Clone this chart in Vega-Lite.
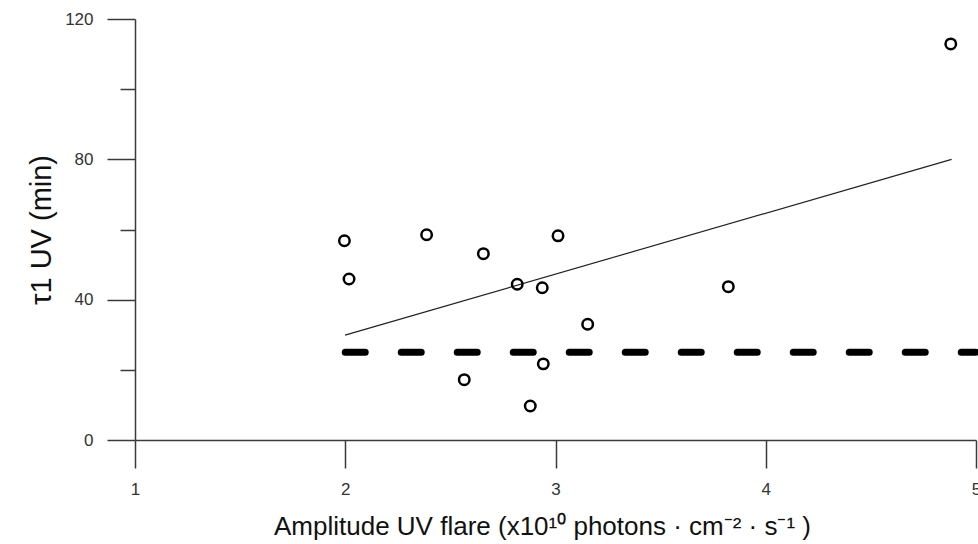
{
  "$schema": "https://vega.github.io/schema/vega-lite/v6.json",
  "autosize": {"type": "none"},
  "width": 841,
  "height": 421,
  "padding": {"left": 135, "top": 19, "right": 2, "bottom": 104},
  "background": "white",
  "config": {
    "view": {"stroke": null},
    "font": "Liberation Sans",
    "axis": {
      "domainColor": "#3a3a3a",
      "domainWidth": 1.5,
      "tickColor": "#3a3a3a",
      "tickWidth": 1.5,
      "grid": false,
      "labelColor": "#333333",
      "labelFont": "Liberation Sans",
      "titleFont": "Liberation Sans",
      "titleFontWeight": "normal",
      "titleColor": "#111111"
    }
  },
  "datasets": {
    "points": [
      {"amplitude": 1.996, "tau": 56.8},
      {"amplitude": 2.018, "tau": 45.9},
      {"amplitude": 2.387, "tau": 58.5},
      {"amplitude": 2.657, "tau": 53.1},
      {"amplitude": 3.012, "tau": 58.2},
      {"amplitude": 2.818, "tau": 44.4},
      {"amplitude": 2.937, "tau": 43.4},
      {"amplitude": 3.153, "tau": 33.0},
      {"amplitude": 2.942, "tau": 21.7},
      {"amplitude": 2.566, "tau": 17.2},
      {"amplitude": 2.880, "tau": 9.7},
      {"amplitude": 3.822, "tau": 43.7},
      {"amplitude": 4.880, "tau": 112.9}
    ],
    "fit": [
      {"amplitude": 1.999, "tau": 29.9},
      {"amplitude": 4.884, "tau": 80.0}
    ],
    "threshold": [
      {"amplitude": 2.0, "tau": 25},
      {"amplitude": 5.0, "tau": 25}
    ]
  },
  "encoding": {
    "x": {
      "field": "amplitude",
      "type": "quantitative",
      "scale": {"domain": [1, 5], "nice": false, "zero": false},
      "axis": {
        "values": [1, 1.5, 2, 2.5, 3, 3.5, 4, 4.5, 5],
        "format": "d",
        "labelExpr": "datum.value % 1 === 0 ? format(datum.value, 'd') : ''",
        "labelFontSize": 17,
        "tickSize": {"condition": {"test": "datum.value % 1 === 0", "value": 28}, "value": 15},
        "labelPadding": 13,
        "labelFlush": false,
        "labelOverlap": false,
        "title": "Amplitude UV flare (x10¹⁰ photons · cm⁻² · s⁻¹ )",
        "titleFontSize": 26,
        "titlePadding": 16,
        "titleX": 407
      }
    },
    "y": {
      "field": "tau",
      "type": "quantitative",
      "scale": {"domain": [0, 120], "nice": false},
      "axis": {
        "values": [0, 20, 40, 60, 80, 100, 120],
        "format": "d",
        "labelExpr": "datum.value % 40 === 0 ? datum.label : ''",
        "labelFontSize": 17,
        "tickSize": {"condition": {"test": "datum.value % 40 === 0", "value": 28}, "value": 15},
        "labelPadding": 14,
        "labelFlush": false,
        "labelOverlap": false,
        "title": "τ1 UV (min)",
        "titleFontSize": 29,
        "titlePadding": 8
      }
    }
  },
  "layer": [
    {
      "data": {"name": "threshold"},
      "mark": {"type": "line", "color": "#000000", "strokeWidth": 7, "strokeDash": [20, 36], "strokeCap": "round", "clip": false}
    },
    {
      "data": {"name": "fit"},
      "mark": {"type": "line", "color": "#222222", "strokeWidth": 1.2}
    },
    {
      "data": {"name": "points"},
      "mark": {"type": "point", "shape": "circle", "filled": false, "color": "#000000", "strokeWidth": 2.5, "size": 110, "opacity": 1}
    }
  ]
}
